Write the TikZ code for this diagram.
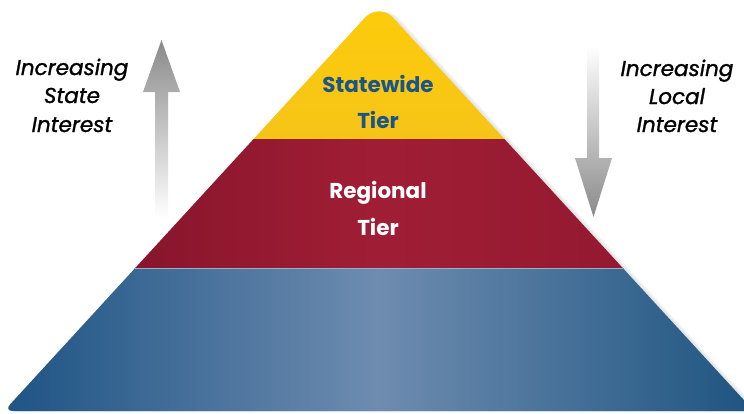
\documentclass[tikz,border=0pt]{standalone}
\usepackage{fontspec}
\setmainfont{Poppins}
\newfontfamily\sidefont[FakeBold=1.2]{Poppins}
\definecolor{yelT}{RGB}{253,204,10}
\definecolor{yelB}{RGB}{246,196,24}
\definecolor{redL}{RGB}{122,16,38}
\definecolor{redM}{RGB}{160,30,53}
\definecolor{redR}{RGB}{140,22,46}
\definecolor{bluL}{RGB}{29,83,132}
\definecolor{bluM}{RGB}{110,140,176}
\definecolor{bluR}{RGB}{29,84,128}
\definecolor{tierblue}{RGB}{27,85,135}
\definecolor{arrgray}{RGB}{138,138,138}
\tikzset{
  tiertext/.style={font=\bfseries\fontsize{21.5}{24}\selectfont, anchor=base},
  sidetext/.style={font=\sidefont\itshape\fontsize{21.5}{24}\selectfont, anchor=base, text=black},
}
\newcommand{\pyrpath}{(379,411) [rounded corners=9pt] -- (4,411) [rounded corners=21pt] -- (379,2.3) [rounded corners=9pt] -- (754,411) -- cycle}
\begin{document}
\begin{tikzpicture}[x=1pt,y=-1pt]
\useasboundingbox (0,0) rectangle (744,413);
% soft shadow
\fill[black, opacity=0.05, shift={(6,1)}] \pyrpath;
\fill[black, opacity=0.05, shift={(3,0.5)}] \pyrpath;
\begin{scope}
  \clip \pyrpath;
  \shade[top color=yelT, bottom color=yelB] (0,0) rectangle (758,139.5);
  \shade[left color=redL, right color=redR, middle color=redM] (0,139.5) rectangle (758,268);
  \shade[left color=bluL, right color=bluR, middle color=bluM] (0,268) rectangle (758,413);
  \draw[bluM!70!white, line width=0.6pt] (0,268) -- (758,268);
\end{scope}
% arrows
\shade[top color=arrgray, bottom color=white]
  (155,218) -- (155,92) -- (143,92) -- (161.5,40) -- (180,92) -- (168,92) -- (168,218) -- cycle;
\shade[top color=white, bottom color=arrgray]
  (587,46) -- (587,158) -- (575,158) -- (593.5,217) -- (612,158) -- (599,158) -- (599,46) -- cycle;
% tier labels
\node[tiertext, text=tierblue] (sw1) at (378,92) {Statewide};
\node[tiertext, text=tierblue] (sw2) at (378,128) {Tier};
\node[tiertext, text=white] (rg1) at (378,198) {Regional};
\node[tiertext, text=white] (rg2) at (378,235) {Tier};
% side labels
\node[sidetext] (ls1) at (72,75) {Increasing};
\node[sidetext] (ls2) at (72,103) {State};
\node[sidetext] (ls3) at (72,132) {Interest};
\node[sidetext] (rs1) at (677,76) {Increasing};
\node[sidetext] (rs2) at (677,104) {Local};
\node[sidetext] (rs3) at (677,132) {Interest};
\end{tikzpicture}
\end{document}
